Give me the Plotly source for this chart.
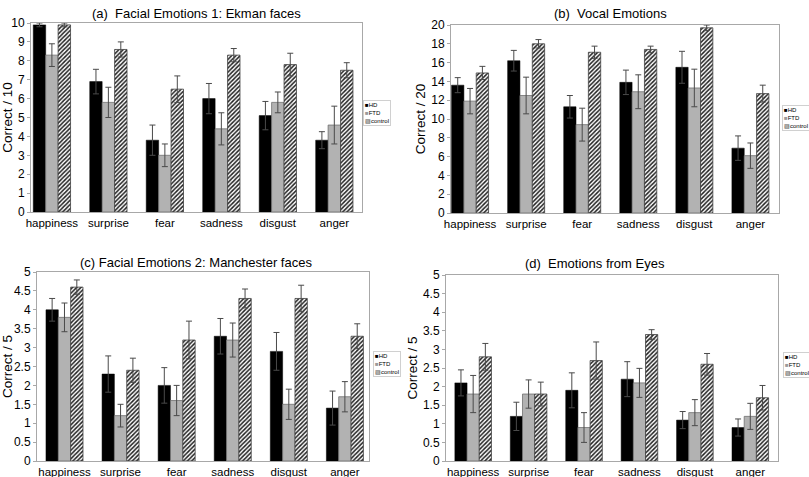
import plotly.graph_objects as go
from plotly.subplots import make_subplots

emotions = ["happiness", "surprise", "fear", "sadness", "disgust", "anger"]
groups = ["HD", "FTD", "control"]

# (a) Facial Emotions 1: Ekman faces (correct / 10)
ekman_hd = [9.9, 6.9, 3.8, 6.0, 5.1, 3.8]
ekman_ftd = [8.3, 5.8, 3.0, 4.4, 5.8, 4.6]
ekman_ctl = [9.9, 8.6, 6.5, 8.3, 7.8, 7.5]
ekman_hd_err = [0.1, 0.65, 0.8, 0.8, 0.75, 0.45]
ekman_ftd_err = [0.6, 0.8, 0.6, 0.85, 0.55, 1.0]
ekman_ctl_err = [0.1, 0.4, 0.7, 0.35, 0.6, 0.4]

# (b) Vocal Emotions (correct / 20)
vocal_hd = [13.6, 16.2, 11.3, 13.9, 15.5, 6.9]
vocal_ftd = [11.9, 12.5, 9.4, 12.9, 13.3, 6.1]
vocal_ctl = [14.9, 18.0, 17.1, 17.4, 19.7, 12.7]
vocal_hd_err = [0.8, 1.1, 1.2, 1.3, 1.7, 1.3]
vocal_ftd_err = [1.35, 1.95, 1.75, 1.8, 2.0, 1.35]
vocal_ctl_err = [0.7, 0.45, 0.65, 0.35, 0.3, 0.9]

# (c) Facial Emotions 2: Manchester faces (correct / 5)
manc_hd = [4.0, 2.3, 2.0, 3.3, 2.9, 1.4]
manc_ftd = [3.8, 1.2, 1.6, 3.2, 1.5, 1.7]
manc_ctl = [4.6, 2.4, 3.2, 4.3, 4.3, 3.3]
manc_hd_err = [0.3, 0.48, 0.47, 0.47, 0.5, 0.45]
manc_ftd_err = [0.38, 0.3, 0.4, 0.45, 0.4, 0.4]
manc_ctl_err = [0.19, 0.32, 0.5, 0.25, 0.35, 0.33]

# (d) Emotions from Eyes (correct / 5)
eyes_hd = [2.1, 1.2, 1.9, 2.2, 1.1, 0.9]
eyes_ftd = [1.8, 1.8, 0.9, 2.1, 1.3, 1.2]
eyes_ctl = [2.8, 1.8, 2.7, 3.4, 2.6, 1.7]
eyes_hd_err = [0.35, 0.38, 0.47, 0.47, 0.23, 0.23]
eyes_ftd_err = [0.5, 0.38, 0.4, 0.39, 0.35, 0.35]
eyes_ctl_err = [0.36, 0.32, 0.5, 0.13, 0.29, 0.33]

panel_titles = [
    "(a)\u00a0\u00a0Facial Emotions 1: Ekman faces",
    "(b)\u00a0\u00a0Vocal Emotions",
    "(c) Facial Emotions 2: Manchester faces",
    "(d)\u00a0\u00a0Emotions from Eyes",
]
y_titles = ["Correct / 10", "Correct / 20", "Correct / 5", "Correct / 5"]
y_max = [10, 20, 5, 5]
y_dtick = [1, 2, 0.5, 0.5]

panels = [
    (ekman_hd, ekman_ftd, ekman_ctl, ekman_hd_err, ekman_ftd_err, ekman_ctl_err),
    (vocal_hd, vocal_ftd, vocal_ctl, vocal_hd_err, vocal_ftd_err, vocal_ctl_err),
    (manc_hd, manc_ftd, manc_ctl, manc_hd_err, manc_ftd_err, manc_ctl_err),
    (eyes_hd, eyes_ftd, eyes_ctl, eyes_hd_err, eyes_ftd_err, eyes_ctl_err),
]

W, H = 809, 477
# plot-area boxes in pixels: (left, right, top, bottom)
boxes = [(31, 362, 23, 212), (451, 779, 25, 213), (37, 369, 272, 461), (446, 778, 275, 461)]
# category-axis ranges (groups sit slightly off-centre, as in the original)
x_ranges = [(-0.37, 5.49), (-0.34, 5.51), (-0.49, 5.43), (-0.49, 5.5)]
title_pos = [(196, 14), (610, 14), (196, 262), (595, 263)]
legend_pos = [(363, 100), (782, 105), (373, 351), (783, 352)]

FONT = "Arial, Liberation Sans, sans-serif"
ERR = "#4a4a4a"

fig = make_subplots(rows=2, cols=2)

for i, (hd, ftd, ctl, ehd, eftd, ectl) in enumerate(panels):
    r, c = i // 2 + 1, i % 2 + 1
    styles = [
        dict(marker=dict(color="black", line=dict(color="black", width=0.5))),
        dict(marker=dict(color="#b2b2b2", line=dict(color="#707070", width=0.8))),
        dict(marker=dict(color="white", line=dict(color="#404040", width=0.8),
                         pattern=dict(shape="/", fgcolor="#202020", bgcolor="white",
                                      size=3, solidity=0.5))),
    ]
    for name, vals, errs, st in zip(groups, (hd, ftd, ctl), (ehd, eftd, ectl), styles):
        fig.add_trace(
            go.Bar(x=emotions, y=vals, name=name, showlegend=False,
                   error_y=dict(type="data", array=errs, visible=True,
                                color=ERR, thickness=1, width=3),
                   **st),
            row=r, col=c)

layout_updates = {}
for i in range(4):
    l, rr, t, b = boxes[i]
    sfx = "" if i == 0 else str(i + 1)
    layout_updates["xaxis" + sfx] = dict(
        domain=[l / W, rr / W], range=list(x_ranges[i]), showline=True, mirror=True,
        linecolor="#a8a8a8", linewidth=1, showgrid=False, ticks="",
        tickfont=dict(size=11.5, color="black"), automargin=False, zeroline=False)
    layout_updates["yaxis" + sfx] = dict(
        domain=[1 - b / H, 1 - t / H], range=[0, y_max[i]], dtick=y_dtick[i],
        showline=True, mirror=True, linecolor="#a8a8a8", linewidth=1,
        showgrid=False, zeroline=False, ticks="outside", ticklen=3, tickcolor="#a8a8a8",
        tickfont=dict(size=12, color="black"), automargin=False,
        title=dict(text=y_titles[i], font=dict(size=13.5, color="black"), standoff=2))

fig.update_layout(**layout_updates)

annotations = []
for i in range(4):
    x, y = title_pos[i]
    annotations.append(dict(text=panel_titles[i], x=x / W, y=1 - y / H, xref="paper", yref="paper",
                            xanchor="center", yanchor="middle", showarrow=False,
                            font=dict(size=13, color="black")))
    lx, ly = legend_pos[i]
    legend_text = ("<span style='color:black'>\u25a0</span>" + groups[0] + "<br>"
                   + "<span style='color:#9a9a9a'>\u25a0</span>" + groups[1] + "<br>"
                   + "<span style='color:#333333'>\u25a8</span>" + groups[2])
    annotations.append(dict(text=legend_text, x=lx / W, y=1 - ly / H, xref="paper", yref="paper",
                            xanchor="left", yanchor="top", align="left", showarrow=False,
                            font=dict(size=6, color="black"),
                            bordercolor="#d0d0d0", borderwidth=1, borderpad=1,
                            bgcolor="white"))

fig.update_layout(
    template="none",
    width=W, height=H,
    margin=dict(l=0, r=0, t=0, b=0),
    paper_bgcolor="white", plot_bgcolor="white",
    font=dict(family=FONT, color="black"),
    barmode="group", bargap=0.34, bargroupgap=0,
    showlegend=False,
    annotations=annotations,
)

fig.write_html("out.html", config={"displayModeBar": False},
               post_script="document.body.style.margin='0';document.body.style.overflow='hidden';")
